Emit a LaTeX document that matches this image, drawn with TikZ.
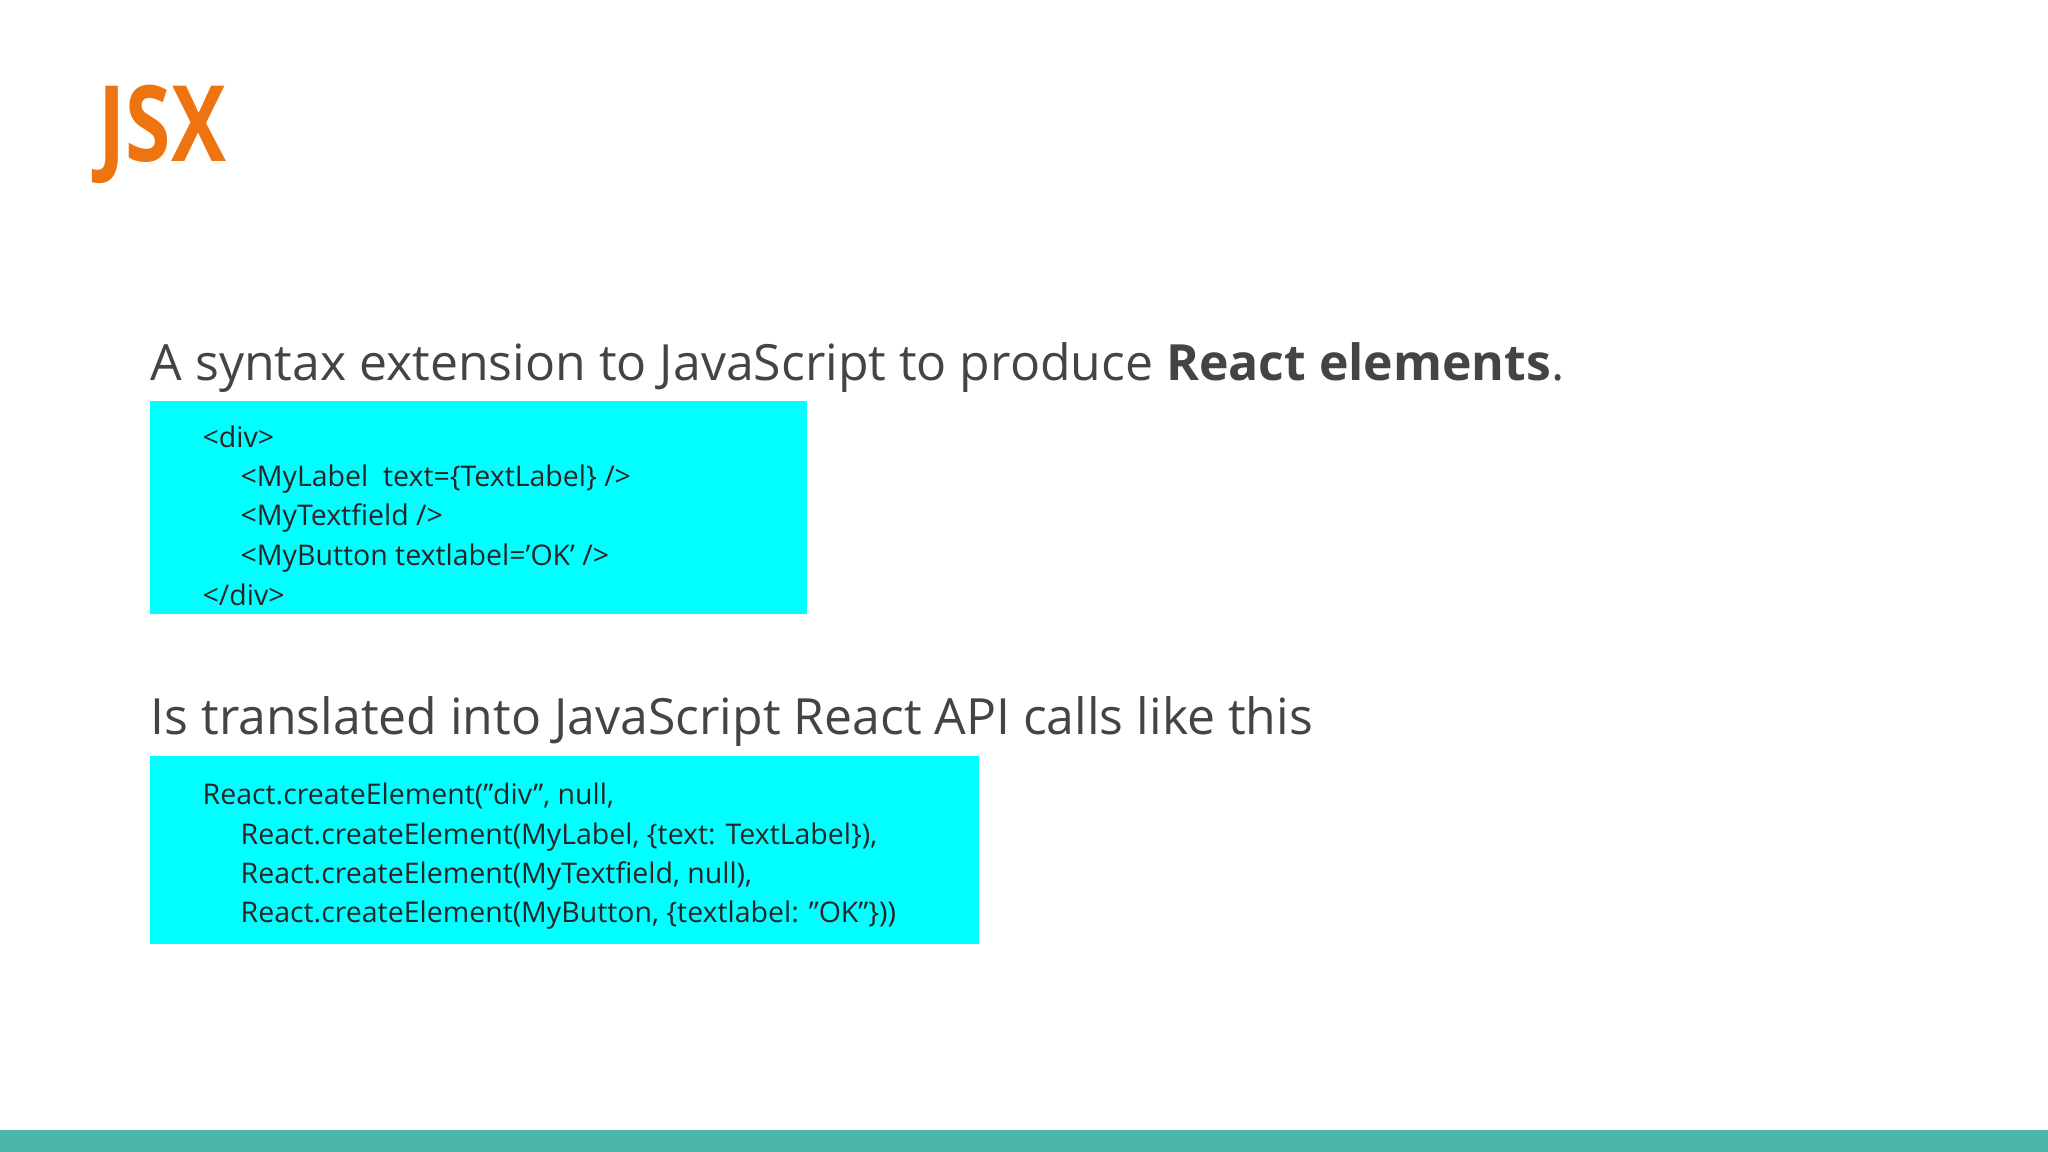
\documentclass[tikz,border=0pt]{standalone}
\usepackage{fontspec}
\setmainfont{Open Sans}
\newfontfamily\jsxfont[FakeStretch=0.78]{Open Sans}
\definecolor{txt}{HTML}{444444}
\definecolor{jsxor}{HTML}{EE7410}
\definecolor{codebg}{HTML}{00FFFF}
\definecolor{barc}{HTML}{4DB6AC}
\tikzset{
  head/.style={anchor=base west, inner sep=0pt, text=txt, font=\fontsize{14.2}{17}\selectfont},
  code/.style={anchor=base west, inner sep=0pt, text=black!85, font=\fontsize{8.1}{10}\selectfont},
}
\begin{document}
\begin{tikzpicture}[x=0.01cm,y=-0.01cm]
\fill[white] (0,0) rectangle (2048,1152);
\fill[barc] (0,1130) rectangle (2048,1152);
\node[anchor=base west, inner sep=0pt, text=jsxor, font=\jsxfont\bfseries\fontsize{30}{34}\selectfont] (jsx) at (98,162) {JSX};
\node[head] (h1) at (150,381) {A syntax extension to JavaScript to produce \textbf{React elements}.};
\fill[codebg] (150,401) rectangle (807,614);
\node[code] (c1) at (202,448) {<div>};
\node[code] (c2) at (240,487) {<MyLabel\ \ text=\{TextLabel\} />};
\node[code] (c3) at (240,526) {<MyTextfield />};
\node[code] (c4) at (240,565) {<MyButton textlabel='OK' />};
\node[code] (c5) at (202,605) {</div>};
\node[head] (h2) at (150,735) {Is translated into JavaScript React API calls like this};
\fill[codebg] (150,756) rectangle (979,944);
\node[code] (d1) at (202,804) {React.createElement("div", null,};
\node[code] (d2) at (240,844) {React.createElement(MyLabel, \{text: TextLabel\}),};
\node[code] (d3) at (240,883) {React.createElement(MyTextfield, null),};
\node[code] (d4) at (240,922) {React.createElement(MyButton, \{textlabel: "OK"\}))};
\end{tikzpicture}
\end{document}
